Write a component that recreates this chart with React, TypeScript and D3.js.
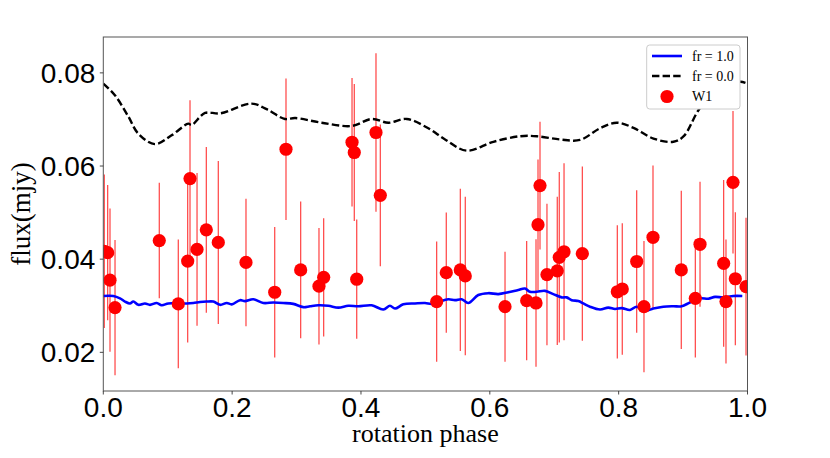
import React from "react";
import * as d3 from "d3";

// ---- data ----
const obsPhase = [0.0015, 0.0068, 0.0104, 0.0182, 0.0869, 0.1164, 0.131, 0.1346, 0.1455, 0.1599, 0.1785, 0.2215, 0.2661, 0.2836, 0.3064, 0.3348, 0.3421, 0.3861, 0.3896, 0.3934, 0.4233, 0.43, 0.5175, 0.5324, 0.5542, 0.5619, 0.6236, 0.6572, 0.6717, 0.6748, 0.6779, 0.6887, 0.7047, 0.7078, 0.7152, 0.7436, 0.7979, 0.8056, 0.828, 0.8393, 0.8533, 0.8972, 0.919, 0.9263, 0.963, 0.9666, 0.9775, 0.9811, 0.9977];
const obsFlux = [0.0417, 0.0414, 0.0355, 0.0296, 0.044, 0.0304, 0.0396, 0.0573, 0.0421, 0.0463, 0.0436, 0.0393, 0.0329, 0.0636, 0.0377, 0.0342, 0.0361, 0.0651, 0.0629, 0.0357, 0.0672, 0.0537, 0.0309, 0.0371, 0.0377, 0.0364, 0.0298, 0.0311, 0.0306, 0.0474, 0.0558, 0.0367, 0.0375, 0.0404, 0.0416, 0.0412, 0.033, 0.0336, 0.0395, 0.0298, 0.0447, 0.0377, 0.0316, 0.0432, 0.0391, 0.0309, 0.0565, 0.0358, 0.0341];
const obsErr = [0.0165, 0.0145, 0.0154, 0.0145, 0.0124, 0.0138, 0.0175, 0.0168, 0.0164, 0.0178, 0.0175, 0.0137, 0.014, 0.0152, 0.0147, 0.0125, 0.0127, 0.0138, 0.0147, 0.0128, 0.017, 0.0152, 0.0129, 0.0129, 0.0174, 0.017, 0.0118, 0.0128, 0.0137, 0.014, 0.0137, 0.0152, 0.0159, 0.0183, 0.019, 0.0187, 0.0143, 0.0141, 0.0153, 0.0141, 0.0154, 0.017, 0.0127, 0.0134, 0.0179, 0.0133, 0.0153, 0.0143, 0.0148];

const fr1Phase = [0, 0.0155, 0.0259, 0.0337, 0.0414, 0.0466, 0.0543, 0.0647, 0.0725, 0.0829, 0.0907, 0.1009, 0.1164, 0.1295, 0.1397, 0.1501, 0.1605, 0.1708, 0.1812, 0.1916, 0.1993, 0.2122, 0.22, 0.2328, 0.2484, 0.2639, 0.2794, 0.2949, 0.3105, 0.3209, 0.3337, 0.3493, 0.3648, 0.3803, 0.3958, 0.4166, 0.4347, 0.445, 0.4528, 0.4657, 0.4839, 0.4994, 0.5098, 0.52, 0.5356, 0.5459, 0.5563, 0.5666, 0.5821, 0.5976, 0.6132, 0.6287, 0.6442, 0.6546, 0.6624, 0.6728, 0.6857, 0.6985, 0.7116, 0.7193, 0.7271, 0.7374, 0.7451, 0.7555, 0.771, 0.7839, 0.7943, 0.8047, 0.8176, 0.828, 0.8409, 0.8538, 0.8693, 0.8848, 0.8979, 0.9107, 0.9263, 0.9392, 0.9496, 0.9624, 0.978, 0.9919];
const fr1Flux = [0.0321, 0.0321, 0.0316, 0.0309, 0.0305, 0.0309, 0.0302, 0.0305, 0.0302, 0.0306, 0.0301, 0.0305, 0.0305, 0.0305, 0.0306, 0.0308, 0.0309, 0.0309, 0.0302, 0.0306, 0.0303, 0.0312, 0.031, 0.0314, 0.0306, 0.0307, 0.0306, 0.0304, 0.0297, 0.0299, 0.0301, 0.03, 0.0296, 0.03, 0.0299, 0.0301, 0.0292, 0.03, 0.0294, 0.0303, 0.0305, 0.0306, 0.0304, 0.0308, 0.0314, 0.0312, 0.0314, 0.0306, 0.0323, 0.0327, 0.0325, 0.0329, 0.0334, 0.0337, 0.033, 0.033, 0.0332, 0.0325, 0.0318, 0.0318, 0.0312, 0.031, 0.0305, 0.0298, 0.0292, 0.0296, 0.0293, 0.0295, 0.0291, 0.0298, 0.0289, 0.0294, 0.0298, 0.0299, 0.0299, 0.0307, 0.0316, 0.0315, 0.0319, 0.0318, 0.0321, 0.0321];

const fr0Phase = [0, 0.018, 0.039, 0.054, 0.08, 0.106, 0.132, 0.137, 0.158, 0.181, 0.23, 0.2535, 0.282, 0.298, 0.339, 0.3856, 0.4167, 0.4425, 0.471, 0.5045, 0.5305, 0.564, 0.6055, 0.647, 0.673, 0.709, 0.74, 0.771, 0.797, 0.823, 0.854, 0.885, 0.901, 0.926, 0.96, 0.989, 1.0];
const fr0Flux = [0.0777, 0.0752, 0.0706, 0.067, 0.0647, 0.0666, 0.0691, 0.0688, 0.0714, 0.0713, 0.0734, 0.0722, 0.0701, 0.0703, 0.0693, 0.0686, 0.0701, 0.0693, 0.0701, 0.0681, 0.0657, 0.0633, 0.0652, 0.0664, 0.0664, 0.0657, 0.0656, 0.0681, 0.0693, 0.0682, 0.0659, 0.0652, 0.0664, 0.0724, 0.0772, 0.0781, 0.0777];

const xTicks = [0, 0.2, 0.4, 0.6, 0.8, 1.0];
const yTicks = [0.02, 0.04, 0.06, 0.08];
const legendLabels = ["fr = 1.0", "fr = 0.0", "W1"];

const W = 830;
const H = 458;
const left = 103.3;
const right = 747.5;
const top = 37;
const bottom = 391;

export default function App() {
  const x = d3.scaleLinear().domain([0, 1]).range([left, right]);
  const y = d3.scaleLinear().domain([0.0117, 0.0877]).range([bottom, top]);

  const line1 = d3
    .line<number>()
    .x((_, i) => x(fr1Phase[i]))
    .y((d) => y(d))
    .curve(d3.curveCatmullRom.alpha(0.5));
  const line0 = d3
    .line<number>()
    .x((_, i) => x(fr0Phase[i]))
    .y((d) => y(d))
    .curve(d3.curveCatmullRom.alpha(0.5));

  const tickFont = "'Liberation Sans', Arial, Helvetica, sans-serif";
  const serif = "'Liberation Serif', 'Times New Roman', serif";

  const lx = 646.7;
  const ly = 45;
  const lw = 93.3;
  const lh = 64;
  const rows = [56, 76, 96.5];

  return (
    <svg
      width={W}
      height={H}
      viewBox={`0 0 ${W} ${H}`}
      style={{ position: "absolute", left: 0, top: 0, background: "#fff" }}
    >
      <defs>
        <clipPath id="plotclip">
          <rect x={left} y={top} width={right - left} height={bottom - top} />
        </clipPath>
      </defs>
      <rect x={0} y={0} width={W} height={H} fill="#fff" />
      <g clipPath="url(#plotclip)">
        {obsPhase.map((p, i) => (
          <line
            key={"e" + i}
            x1={x(p)}
            x2={x(p)}
            y1={y(obsFlux[i] - obsErr[i])}
            y2={y(obsFlux[i] + obsErr[i])}
            stroke="#ff0000"
            strokeOpacity={0.75}
            strokeWidth={1.2}
          />
        ))}
        <path d={line1(fr1Flux) || ""} fill="none" stroke="#0000ff" strokeWidth={2.6} />
        <path
          d={line0(fr0Flux) || ""}
          fill="none"
          stroke="#000"
          strokeWidth={2.4}
          strokeDasharray="7.4 3.2"
        />
        {obsPhase.map((p, i) => (
          <circle key={"c" + i} cx={x(p)} cy={y(obsFlux[i])} r={6.6} fill="#ff0000" />
        ))}
      </g>
      {/* frame */}
      <rect
        x={left}
        y={top}
        width={right - left}
        height={bottom - top}
        fill="none"
        stroke="#555"
        strokeWidth={1}
      />
      {/* x ticks */}
      {xTicks.map((t) => (
        <g key={"xt" + t}>
          <line x1={x(t)} x2={x(t)} y1={bottom} y2={bottom + 3.5} stroke="#333" strokeWidth={0.9} />
          <text
            x={x(t)}
            y={417}
            textAnchor="middle"
            fontFamily={tickFont}
            fontSize={28}
            fill="#000"
          >
            {d3.format(".1f")(t)}
          </text>
        </g>
      ))}
      {/* y ticks */}
      {yTicks.map((t) => (
        <g key={"yt" + t}>
          <line x1={left - 3.5} x2={left} y1={y(t)} y2={y(t)} stroke="#333" strokeWidth={0.9} />
          <text
            x={left - 8}
            y={y(t) + 9.8}
            textAnchor="end"
            fontFamily={tickFont}
            fontSize={28}
            fill="#000"
          >
            {d3.format(".2f")(t)}
          </text>
        </g>
      ))}
      <text
        x={(left + right) / 2}
        y={442}
        textAnchor="middle"
        fontFamily={serif}
        fontSize={26}
        fill="#000"
      >
        rotation phase
      </text>
      <text
        transform={`translate(30, ${(top + bottom) / 2}) rotate(-90)`}
        textAnchor="middle"
        fontFamily={serif}
        fontSize={27}
        fill="#000"
      >
        flux(mjy)
      </text>
      {/* legend */}
      <rect
        x={lx}
        y={ly}
        width={lw}
        height={lh}
        rx={3}
        ry={3}
        fill="#fff"
        stroke="#ccc"
        strokeWidth={1}
      />
      <line x1={652} x2={682} y1={rows[0]} y2={rows[0]} stroke="#0000ff" strokeWidth={2.6} />
      <line
        x1={652}
        x2={682}
        y1={rows[1]}
        y2={rows[1]}
        stroke="#000"
        strokeWidth={2.4}
        strokeDasharray="7.4 3.2"
      />
      <circle cx={667} cy={rows[2]} r={6.6} fill="#ff0000" />
      {legendLabels.map((s, i) => (
        <text
          key={s}
          x={692}
          y={rows[i]}
          dy="0.35em"
          fontFamily={serif}
          fontSize={14}
          fill="#000"
        >
          {s}
        </text>
      ))}
    </svg>
  );
}
